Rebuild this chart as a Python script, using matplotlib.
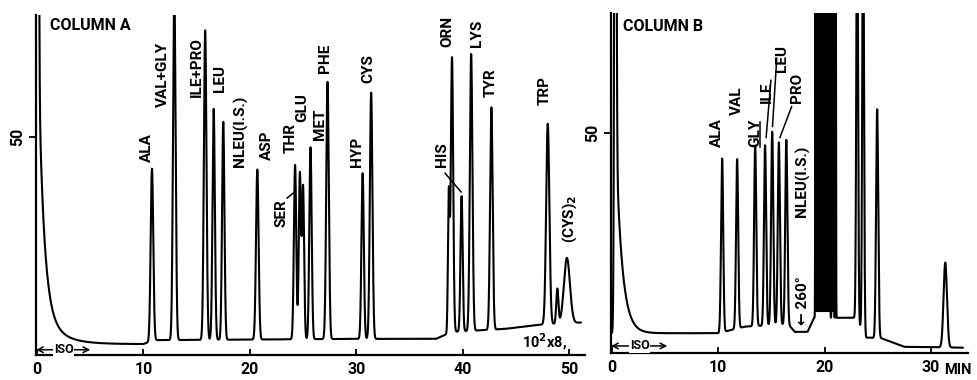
#!/usr/bin/env python3
# -*- coding: utf-8 -*-
"""
Amino acid chromatograms, column A and column B, redrawn from peak tables.
"""

import numpy as np
import matplotlib
matplotlib.use('Agg')
import matplotlib.pyplot as plt

plt.rcParams['font.family'] = ['Roboto', 'DejaVu Sans']
plt.rcParams['font.weight'] = 'bold'

# --- column A: peaks (retention min, height above baseline, sigma min) ---
a_peak_t = [0.05, 10.8, 12.9, 15.8, 16.6, 17.5, 20.7, 24.25, 24.7, 25.0,
            25.7, 27.3, 30.6, 31.4, 38.7, 39.0, 39.9, 40.8, 42.7, 48.0,
            48.9, 49.8]
a_peak_h = [200, 39.5, 80, 71, 53, 50, 39, 40, 38, 35,
            44, 59, 38, 56.5, 32, 63, 31, 63.5, 51, 46,
            8, 15]
a_peak_w = [0.08, 0.12, 0.12, 0.12, 0.11, 0.11, 0.12, 0.11, 0.1, 0.1,
            0.11, 0.12, 0.11, 0.12, 0.08, 0.11, 0.1, 0.12, 0.12, 0.15,
            0.1, 0.28]
# solvent tail of column A
a_tail_amp = [66, 9.2]
a_tail_tau = [0.5, 1.6]
# baseline drift of column A
a_base_t = [0, 10, 11, 30, 37.5, 39, 44, 47.5, 51.5]
a_base_v = [2.5, 2.5, 3.4, 3.7, 3.7, 5.3, 6.0, 7.0, 7.5]

a_labels = ['ALA', 'VAL+GLY', 'ILE+PRO', 'LEU', 'NLEU(I.S.)', 'ASP', 'THR',
            'GLU', 'SER', 'MET', 'PHE', 'HYP', 'CYS', 'HIS', 'ORN', 'LYS',
            'TYR', 'TRP', '(CYS)$_2$']
a_label_t = [10.34, 11.84, 15.04, 17.2, 19.08, 21.6, 23.8,
             24.9, 23.0, 26.6, 27.07, 30.08, 31.1, 38.06, 38.6, 41.35,
             42.6, 47.7, 50.1]
a_label_v = [44.3, 56.9, 59.2, 60.3, 43.1, 44.7, 46.3,
             53.4, 29.4, 49.3, 64.7, 43.1, 62.4, 43.1, 70.6, 70.6,
             59.2, 57.3, 25.7]

# --- column B ---
b_block_t = [19.15, 19.3, 19.45, 19.6, 19.75, 19.9, 20.05, 20.2, 20.35,
             20.5, 20.7, 20.85, 21.05]
b_peak_t = [0.3, 10.36, 11.77, 13.47, 14.4, 15.07, 15.7, 16.4,
            23.07, 23.63, 24.95, 31.36] + b_block_t
b_peak_h = [200, 39.5, 38.5, 41, 41, 44, 41.5, 42,
            100, 100, 52, 19.3] + [100] * len(b_block_t)
b_peak_w = [0.08, 0.1, 0.1, 0.1, 0.1, 0.1, 0.1, 0.1,
            0.08, 0.08, 0.1, 0.16] + [0.024] * len(b_block_t)
b_tail_amp = [45]
b_tail_tau = [0.57]
b_base_t = [0, 10, 12.5, 16.6, 17.2, 18.4, 19.0, 21.4, 22.9, 23.9, 25.3,
            27.5, 33.5]
b_base_v = [4.5, 4.5, 6.0, 6.5, 4.8, 4.8, 8.0, 8.0, 8.0, 3.5, 3.4, 1.4, 1.2]

b_labels = ['ALA', 'VAL', 'GLY', 'ILE', 'LEU', 'PRO', 'NLEU(I.S.)',
            '\u2190 260\u00b0']
b_label_t = [9.89, 11.77, 13.47, 14.6, 16.0, 17.4, 17.9, 18.0]
b_label_v = [46.8, 54.1, 46.8, 56.8, 63.9, 56.8, 30.9, 6.4]


def trace(t, peak_t, peak_h, peak_w, tail_amp, tail_tau, t0, base_t, base_v):
    """baseline + solvent tail + gaussian peaks"""
    y = np.interp(t, base_t, base_v)
    step = 1.0 / (1.0 + np.exp(-(t - t0) / 0.02))
    for a, tau in zip(tail_amp, tail_tau):
        y += step * a * np.exp(-np.clip(t - t0, 0, None) / tau)
    for c, h, w in zip(peak_t, peak_h, peak_w):
        y += h * np.exp(-0.5 * ((t - c) / w) ** 2)
    return y


def style_axes(ax, xticks):
    for side in ('top', 'right'):
        ax.spines[side].set_visible(False)
    for side in ('left', 'bottom'):
        ax.spines[side].set_linewidth(1.6)
    ax.set_xticks(xticks)
    ax.set_yticks([50])
    ax.tick_params(axis='x', direction='in', length=4, width=1.3,
                   labelsize=11.5, pad=5)
    ax.tick_params(axis='y', direction='out', length=5, width=1.3,
                   labelsize=11.5, pad=3)
    for lab in ax.get_yticklabels():
        lab.set_rotation(90)
        lab.set_va('center')


def iso_mark(ax, x_end, yv):
    ax.annotate('', xy=(x_end, yv), xytext=(-0.1, yv),
                arrowprops=dict(arrowstyle='<->', lw=1.1, color='black',
                                shrinkA=0, shrinkB=0))
    ax.text(x_end / 2, yv, 'ISO', fontsize=9, ha='center', va='center',
            bbox=dict(facecolor='white', edgecolor='none', pad=0.5))


fig = plt.figure(figsize=(9.78, 3.8), dpi=100)
ax_a = fig.add_axes([36 / 978, 25 / 380, 549 / 978, 340 / 380])
ax_b = fig.add_axes([611 / 978, 27 / 380, 357 / 978, 340 / 380])

# column A
t_a = np.linspace(0, 51.1, 40000)
y_a = trace(t_a, a_peak_t, a_peak_h, a_peak_w, a_tail_amp, a_tail_tau,
            0.05, a_base_t, a_base_v)
ax_a.plot(t_a, y_a, color='black', lw=1.5)
ax_a.set_xlim(-0.1, 51.5)
ax_a.set_ylim(0, 78)
style_axes(ax_a, [0, 10, 20, 30, 40, 50])
for s, x, y in zip(a_labels, a_label_t, a_label_v):
    ax_a.text(x, y, s, rotation=90, ha='center', va='bottom', fontsize=11)
ax_a.text(1.2, 75.7, 'COLUMN A', fontsize=11.5, ha='left', va='center')
ax_a.text(45.6, 0.7, '10$^2$x8,', fontsize=10.5, ha='left', va='bottom')
ax_a.plot([23.5, 24.25], [36, 37.5], color='black', lw=1.1)
ax_a.plot([38.35, 39.85], [41.7, 37.4], color='black', lw=1.1)
iso_mark(ax_a, 5.0, 1.2)

# column B
t_b = np.linspace(0, 33.0, 40000)
y_b = trace(t_b, b_peak_t, b_peak_h, b_peak_w, b_tail_amp, b_tail_tau,
            0.35, b_base_t, b_base_v)
ax_b.plot(t_b, y_b, color='black', lw=1.5)
ax_b.set_xlim(-0.1, 33.5)
ax_b.set_ylim(0, 77.3)
style_axes(ax_b, [0, 10, 20, 30])
for s, x, y in zip(b_labels, b_label_t, b_label_v):
    ax_b.text(x, y, s, rotation=90, ha='center', va='bottom', fontsize=11)
ax_b.text(1.0, 74.3, 'COLUMN B', fontsize=11.5, ha='left', va='center')
ax_b.plot([13.9, 13.9], [46.8, 52.5], color='black', lw=1.1)
ax_b.plot([14.95, 14.5], [62.0, 49.0], color='black', lw=1.1)
ax_b.plot([15.5, 15.1], [67.0, 51.5], color='black', lw=1.1)
ax_b.plot([16.9, 15.8], [56.0, 49.0], color='black', lw=1.1)
ax_b.text(31.3, -3.8, 'MIN', fontsize=10.5, ha='left', va='center',
          clip_on=False)
iso_mark(ax_b, 5.2, 1.6)

fig.savefig('out.png', dpi=100)
